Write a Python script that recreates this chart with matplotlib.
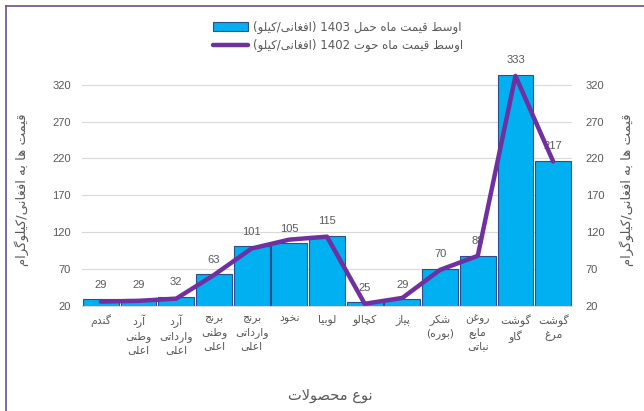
import re
import unicodedata
import matplotlib
matplotlib.use('Agg')
import matplotlib.pyplot as plt
from matplotlib.lines import Line2D

# --- data ---
categories = ['گندم', 'آرد\nوطنی\nاعلی', 'آرد\nوارداتی\nاعلی', 'برنج\nوطنی\nاعلی',
              'برنج\nوارداتی\nاعلی', 'نخود', 'لوبیا', 'کچالو', 'پیاز', 'شکر\n(بوره)',
              'روغن\nمایع\nنباتی', 'گوشت\nگاو', 'گوشت\nمرغ']
price_1403 = [29, 29, 32, 63, 101, 105, 115, 25, 29, 70, 88, 333, 217]
price_1402 = [26, 27, 30, 62, 98, 110, 114, 23, 31, 69, 88, 332, 216]
yticks = [20, 70, 120, 170, 220, 270, 320]
label_1403 = 'اوسط قیمت ماه حمل 1403 (افغانی/کیلو)'
label_1402 = 'اوسط قیمت ماه حوت 1402 (افغانی/کیلو)'
ylabel = 'قیمت ها به افغانی/کیلوگرام'
xlabel = 'نوع محصولات'

# --- minimal arabic shaping (matplotlib does no shaping / bidi) ---
FORMS = {}
for cp in range(0xFB50, 0xFF00):
    d = unicodedata.decomposition(chr(cp)).split()
    if len(d) == 2 and d[0] in ('<isolated>', '<final>', '<initial>', '<medial>'):
        FORMS.setdefault(chr(int(d[1], 16)), {}).setdefault(d[0][1:-1], chr(cp))


def joins_next(c):
    return c in FORMS and 'initial' in FORMS[c]


def shape(s):
    out = []
    i = 0
    while i < len(s):
        c = s[i]
        if c not in FORMS:
            out.append(c)
            i += 1
            continue
        p = i > 0 and joins_next(s[i - 1])
        if c == 'ل' and i + 1 < len(s) and s[i + 1] in ('ا', 'آ'):
            lig = {'ا': ('\uFEFB', '\uFEFC'), 'آ': ('\uFEF5', '\uFEF6')}[s[i + 1]]
            out.append(lig[1] if p else lig[0])
            i += 2
            continue
        nxt = s[i + 1] if i + 1 < len(s) else ''
        q = joins_next(c) and nxt in FORMS
        f = FORMS[c]
        if p and q:
            out.append(f['medial'])
        elif p:
            out.append(f['final'])
        elif q:
            out.append(f['initial'])
        else:
            out.append(f['isolated'])
        i += 1
    return ''.join(out)


def fa(s):
    lines = []
    for line in s.split('\n'):
        toks = re.findall(r'[0-9]+|.', shape(line))
        mirror = {'(': ')', ')': '('}
        lines.append(''.join(mirror.get(t, t) for t in reversed(toks)))
    return '\n'.join(lines)


plt.rcParams['font.family'] = ['DejaVu Sans']
gray = '#595959'

fig = plt.figure(figsize=(6.44, 4.11), dpi=100)
ax = fig.add_axes([82 / 644, 1 - 306 / 411, 490 / 644, (306 - 70) / 411])

x = list(range(len(categories)))
bars = ax.bar(x, [v - 20 for v in price_1403], bottom=20, width=0.95, color='#00B0F0',
              edgecolor='#2E4E8A', linewidth=0.8, zorder=2)
line, = ax.plot(x, price_1402, color='#7030A0', linewidth=3.2, zorder=3,
                solid_capstyle='round')

for xi, v in zip(x, price_1403):
    ax.annotate(str(v), (xi, v), xytext=(0, 7), textcoords='offset points',
                ha='center', va='bottom', fontsize=8, color=gray,
                family=['Liberation Sans'], zorder=2.5)

ax.set_xlim(-0.5, len(categories) - 0.5)
ax.set_ylim(20, 340)
ax.set_yticks(yticks)
ax.set_xticks(x)
ax.set_xticklabels([fa(c) for c in categories], fontsize=7.8, color=gray, linespacing=1.35)
ax.tick_params(length=0, pad=6)
ax.tick_params(axis='y', labelsize=8, labelcolor=gray, pad=8)
for lab in ax.get_yticklabels():
    lab.set_family(['Liberation Sans'])
ax.grid(axis='y', color='#D9D9D9', linewidth=0.8, zorder=0)
for s in ['top', 'left', 'right']:
    ax.spines[s].set_visible(False)
ax.spines['bottom'].set_color('#D9D9D9')

ax2 = ax.twinx()
ax2.set_ylim(20, 340)
ax2.set_yticks(yticks)
ax2.tick_params(length=0, labelsize=8, labelcolor=gray, pad=10)
for lab in ax2.get_yticklabels():
    lab.set_family(['Liberation Sans'])
for s in ax2.spines.values():
    s.set_visible(False)

fig.text(22 / 644, 1 - 190 / 411, fa(ylabel), rotation=90, ha='center', va='center',
         fontsize=9.5, color=gray)
fig.text(627 / 644, 1 - 190 / 411, fa(ylabel), rotation=90, ha='center', va='center',
         fontsize=9.5, color=gray)
fig.text(330 / 644, 1 - 395 / 411, fa(xlabel), ha='center', va='center',
         fontsize=10.5, color=gray)

fig.legend([bars, line], [fa(label_1403), fa(label_1402)], loc='upper center',
           bbox_to_anchor=(338 / 644, 1 - 10 / 411), frameon=False, fontsize=8.5,
           handlelength=3, labelspacing=0.45, handletextpad=0.4, labelcolor=gray)

# thin purple frame on top and left edges
fig.add_artist(Line2D([6 / 644, 1], [1 - 6 / 411, 1 - 6 / 411], color='#6B4F8F', lw=1.2))
fig.add_artist(Line2D([6 / 644, 6 / 644], [0, 1 - 6 / 411], color='#6B4F8F', lw=1.2))

fig.savefig('out.png', dpi=100)
